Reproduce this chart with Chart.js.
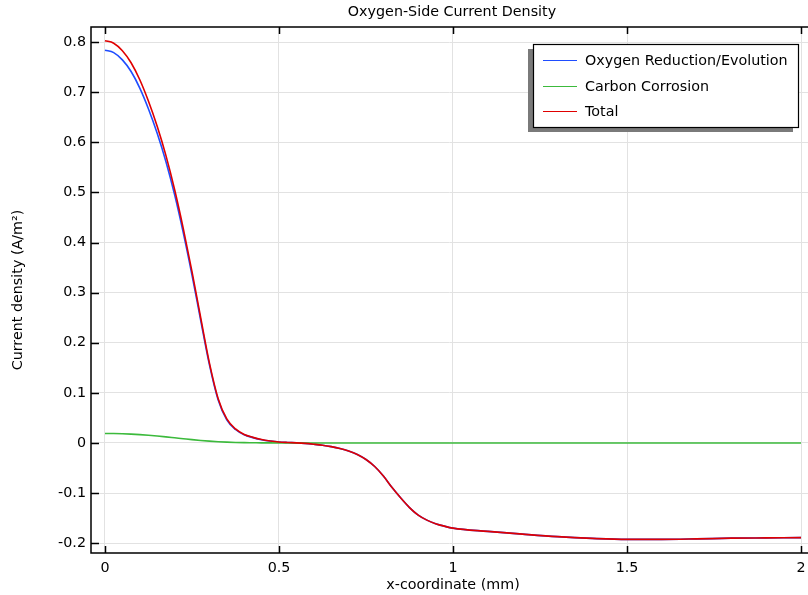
<!DOCTYPE html>
<html>
<head>
<meta charset="utf-8">
<script src="https://cdn.jsdelivr.net/npm/chart.js@4/dist/chart.umd.min.js"></script>
<style>
  html, body { margin: 0; padding: 0; background: #fff; }
  #wrap { width: 808px; height: 595px; position: relative; }
</style>
</head>
<body>
<div id="wrap"><canvas id="myChart" width="808" height="595"></canvas></div>
<script>
// x-coordinate (mm)
const xCoord = [0, 0.025, 0.05, 0.075, 0.1, 0.125, 0.15, 0.175, 0.2, 0.225, 0.25, 0.275, 0.3,
  0.325, 0.35, 0.375, 0.4, 0.425, 0.45, 0.475, 0.5, 0.525, 0.55, 0.575, 0.6, 0.625, 0.65, 0.675,
  0.7, 0.725, 0.75, 0.775, 0.8, 0.825, 0.85, 0.875, 0.9, 0.925, 0.95, 0.975, 1.0,
  1.1, 1.2, 1.3, 1.4, 1.5, 1.6, 1.7, 1.8, 1.9, 2.0];

const oxygenRedEvo = [0.784, 0.7792, 0.7647, 0.7414, 0.7084, 0.6667, 0.6182, 0.5619, 0.4957,
  0.4195, 0.3353, 0.2449, 0.1563, 0.0864, 0.0463, 0.0269, 0.0163, 0.0107, 0.0065, 0.0038, 0.0019,
  0.001, 0.0003, -0.0008, -0.0025, -0.0045, -0.0073, -0.011,
  -0.016, -0.023, -0.033, -0.047, -0.066, -0.089, -0.110, -0.129, -0.144, -0.154, -0.161, -0.166, -0.170,
  -0.1765, -0.182, -0.187, -0.1905, -0.1925, -0.1925, -0.1915, -0.190, -0.1895, -0.189];

const carbonCorrosion = [0.019, 0.0188, 0.0183, 0.0176, 0.0166, 0.0153, 0.0138, 0.0121, 0.0103,
  0.0085, 0.0067, 0.0051, 0.0037, 0.0026, 0.0017, 0.0011, 0.0007, 0.0005, 0.0003, 0.0002, 0.0001,
  0, 0, 0, 0, 0, 0, 0,
  0, 0, 0, 0, 0, 0, 0, 0, 0, 0, 0, 0, 0,
  0, 0, 0, 0, 0, 0, 0, 0, 0, 0];

const totalCurrent = [0.803, 0.798, 0.783, 0.759, 0.725, 0.682, 0.632, 0.574, 0.506,
  0.428, 0.342, 0.250, 0.160, 0.089, 0.048, 0.028, 0.017, 0.0112, 0.0068, 0.004, 0.002,
  0.001, 0.0003, -0.0008, -0.0025, -0.0045, -0.0073, -0.011,
  -0.016, -0.023, -0.033, -0.047, -0.066, -0.089, -0.110, -0.129, -0.144, -0.154, -0.161, -0.166, -0.170,
  -0.1765, -0.182, -0.187, -0.1905, -0.1925, -0.1925, -0.1915, -0.190, -0.1895, -0.189];

const xTicks = [0, 0.5, 1, 1.5, 2];
const yTicks = [-0.2, -0.1, 0, 0.1, 0.2, 0.3, 0.4, 0.5, 0.6, 0.7, 0.8];

const FONT = '"DejaVu Sans", sans-serif';
const FS = 14.3;

const toPoints = ys => xCoord.map((x, i) => ({ x: x, y: ys[i] }));

// frame, inward ticks, titles and legend box
const decorations = {
  id: 'decorations',
  afterDatasetsDraw(chart) {
    const ctx = chart.ctx;
    const a = chart.chartArea;
    const xs = chart.scales.x, ys = chart.scales.y;
    ctx.save();
    ctx.strokeStyle = '#000';
    ctx.lineWidth = 1.5;
    ctx.beginPath();
    ctx.moveTo(a.right + 2, a.top); ctx.lineTo(a.left, a.top);
    ctx.lineTo(a.left, a.bottom); ctx.lineTo(a.right + 2, a.bottom);
    ctx.stroke();

    ctx.beginPath();
    xTicks.forEach(v => {
      const px = Math.round(xs.getPixelForValue(v)) + 0.5;
      ctx.moveTo(px, a.bottom); ctx.lineTo(px, a.bottom - 7);
      ctx.moveTo(px, a.top); ctx.lineTo(px, a.top + 7);
    });
    yTicks.forEach(v => {
      const py = Math.round(ys.getPixelForValue(v)) + 0.5;
      ctx.moveTo(a.left, py); ctx.lineTo(a.left + 8, py);
    });
    ctx.stroke();

    ctx.fillStyle = '#000';
    ctx.font = FS + 'px ' + FONT;
    ctx.textAlign = 'center';
    ctx.textBaseline = 'middle';
    ctx.fillText('Oxygen-Side Current Density', 452, 12);
    ctx.fillText('x-coordinate (mm)', 453, 585);
    ctx.translate(18, (a.top + a.bottom) / 2);
    ctx.rotate(-Math.PI / 2);
    ctx.fillText('Current density (A/m\u00B2)', 0, 0);
    ctx.restore();

    // legend
    ctx.save();
    const bx = 533, by = 44, bw = 265, bh = 83;
    ctx.fillStyle = '#7a7a7a';
    ctx.fillRect(bx - 5, by + 5, bw, bh);
    ctx.fillStyle = '#fff';
    ctx.fillRect(bx, by, bw, bh);
    ctx.strokeStyle = '#000';
    ctx.lineWidth = 1.2;
    ctx.strokeRect(bx + 0.5, by + 0.5, bw, bh);
    ctx.font = FS + 'px ' + FONT;
    ctx.textAlign = 'left';
    ctx.textBaseline = 'middle';
    const rows = [60, 86, 111];
    chart.data.datasets.forEach((ds, i) => {
      ctx.strokeStyle = ds.borderColor;
      ctx.lineWidth = 1;
      ctx.beginPath();
      ctx.moveTo(543, rows[i] + 0.5); ctx.lineTo(577, rows[i] + 0.5);
      ctx.stroke();
      ctx.fillStyle = '#000';
      ctx.fillText(ds.label, 585, rows[i] + 1);
    });
    ctx.restore();
  }
};

new Chart(document.getElementById('myChart').getContext('2d'), {
  type: 'line',
  data: {
    datasets: [
      { label: 'Oxygen Reduction/Evolution', data: toPoints(oxygenRedEvo), borderColor: '#1f4dff', order: 2 },
      { label: 'Carbon Corrosion', data: toPoints(carbonCorrosion), borderColor: '#3cba3c', order: 1 },
      { label: 'Total', data: toPoints(totalCurrent), borderColor: '#e00000', order: 0 }
    ].map(d => Object.assign(d, {
      borderWidth: 1.6, pointRadius: 0, fill: false, cubicInterpolationMode: 'monotone'
    }))
  },
  options: {
    responsive: false,
    animation: false,
    layout: { padding: { top: 27, right: 0, left: 0, bottom: 0 } },
    plugins: { legend: { display: false }, title: { display: false }, tooltip: { enabled: false } },
    scales: {
      x: {
        type: 'linear',
        min: -0.0402,
        max: 2.0201,
        afterBuildTicks: s => { s.ticks = xTicks.map(v => ({ value: v })); },
        afterFit: s => { s.height = 42; s.paddingLeft = 0; s.paddingRight = 0; },
        grid: { color: '#e2e2e2', lineWidth: 1, drawTicks: false },
        border: { display: false },
        ticks: {
          color: '#000', font: { family: FONT, size: FS }, padding: 7, maxRotation: 0,
          callback: v => String(v)
        }
      },
      y: {
        type: 'linear',
        min: -0.2196,
        max: 0.8303,
        afterBuildTicks: s => { s.ticks = yTicks.map(v => ({ value: v })); },
        afterFit: s => { s.width = 91; s.paddingTop = 0; s.paddingBottom = 0; },
        grid: { color: '#e2e2e2', lineWidth: 1, drawTicks: false },
        border: { display: false },
        ticks: {
          color: '#000', font: { family: FONT, size: FS }, padding: 5,
          callback: v => String(Number(v.toFixed(1)))
        }
      }
    }
  },
  plugins: [decorations]
});
</script>
</body>
</html>
